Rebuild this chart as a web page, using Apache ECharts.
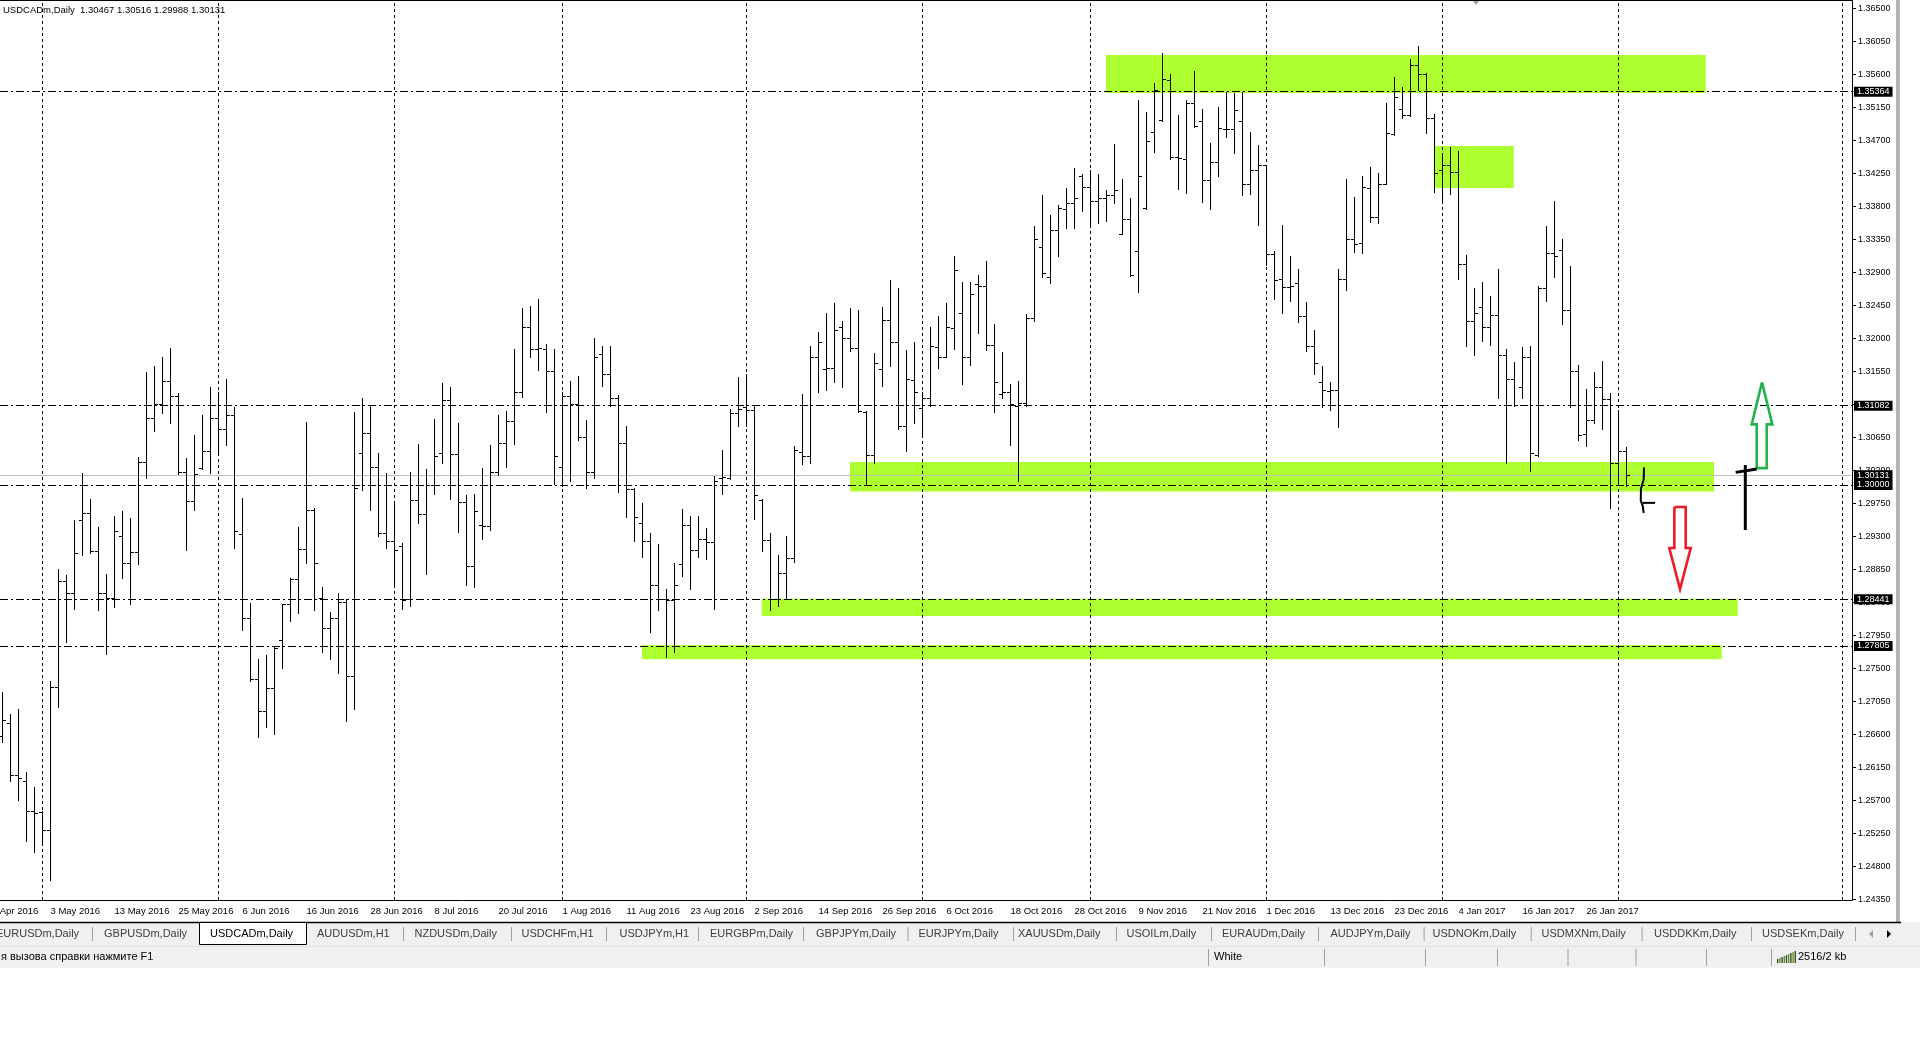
<!DOCTYPE html>
<html><head><meta charset="utf-8">
<script src="https://cdn.jsdelivr.net/npm/echarts@6/dist/echarts.min.js"></script>
<style>html,body{margin:0;padding:0;background:#fff;overflow:hidden}#c{width:1920px;height:1040px}</style>
</head><body><div id="c"></div>
<script>
// ---- DATA (USDCADm Daily, bar index 0 = 25 Apr 2016) ----
const opens = [1.2658,1.2675,1.2604,1.2596,1.2555,1.2554,1.2530,1.2724,1.2869,1.2852,1.2952,1.2962,1.2910,1.2852,1.2846,1.2930,1.2894,1.2908,1.3032,1.3092,
1.3111,1.3142,1.3122,1.3018,1.2978,1.3023,1.3047,1.3091,1.3077,1.3096,1.2933,1.2818,1.2735,1.2692,1.2723,1.2788,1.2837,1.2872,1.2913,1.2966,
1.2846,1.2805,1.2818,1.2840,1.2739,1.3044,1.3071,1.3024,1.2935,1.2923,1.2917,1.2845,1.2980,1.2960,1.3000,1.3043,1.3116,1.3042,1.2977,1.2890,
1.2945,1.2944,1.3018,1.3057,1.3087,1.3127,1.3215,1.3186,1.3185,1.3155,1.3024,1.3122,1.3110,1.3065,1.3018,1.3179,1.3151,1.3118,1.3057,1.2994,
1.2948,1.2924,1.2863,1.2844,1.2843,1.2892,1.2946,1.2912,1.2926,1.2922,1.3010,1.3009,1.3098,1.3106,1.3102,1.2980,1.2925,1.2845,1.2880,1.2900,
1.3045,1.3039,1.3175,1.3158,1.3159,1.3215,1.3201,1.3187,1.3099,1.3041,1.3158,1.3225,1.3195,1.3080,1.3143,1.3105,1.3119,1.3188,1.3174,1.3214,
1.3234,1.3174,1.3274,1.3271,1.3191,1.3124,1.3127,1.3108,1.3112,1.3228,1.3325,1.3284,1.3348,1.3376,1.3384,1.3422,1.3406,1.3387,1.3392,1.3395,
1.3342,1.3363,1.3319,1.3378,1.3482,1.3498,1.3552,1.3447,1.3445,1.3521,1.3496,1.3416,1.3440,1.3486,1.3485,1.3496,1.3411,1.3430,1.3436,1.3315,
1.3281,1.3270,1.3275,1.3230,1.3190,1.3140,1.3128,1.3130,1.3281,1.3335,1.3330,1.3405,1.3366,1.3411,1.3479,1.3513,1.3504,1.3573,1.3560,1.3501,
1.3430,1.3436,1.3427,1.3301,1.3223,1.3243,1.3215,1.3232,1.3177,1.3145,1.3134,1.3174,1.3041,1.3268,1.3316,1.3320,1.3239,1.3156,1.3069,1.3088,
1.3133,1.3117,1.3030,1.30467];
const highs = [1.2718,1.2687,1.2695,1.2608,1.2588,1.2556,1.2732,1.2886,1.2877,1.2952,1.3016,1.2981,1.2943,1.2878,1.2958,1.2964,1.2955,1.3038,1.3154,1.3162,
1.3174,1.3187,1.3125,1.3037,1.3068,1.3095,1.3134,1.3127,1.3144,1.3106,1.2982,1.2839,1.2762,1.2768,1.2781,1.2838,1.2873,1.2943,1.3086,1.2968,
1.2861,1.2827,1.2852,1.2845,1.3099,1.3119,1.3108,1.3043,1.3016,1.2974,1.2921,1.3018,1.3056,1.3022,1.3090,1.3139,1.3133,1.3084,1.2986,1.2988,
1.3023,1.3055,1.3096,1.3101,1.3185,1.3242,1.3244,1.3253,1.3192,1.3186,1.3127,1.3142,1.3149,1.3089,1.3200,1.3189,1.3189,1.3123,1.3081,1.2996,
1.2976,1.2934,1.2919,1.2858,1.2893,1.2967,1.2958,1.2958,1.2941,1.3012,1.3048,1.3103,1.3147,1.3151,1.3108,1.2981,1.2935,1.2905,1.2930,1.3053,
1.3124,1.3189,1.3208,1.3234,1.3248,1.3223,1.3241,1.3238,1.3101,1.3180,1.3243,1.3280,1.3269,1.3184,1.3195,1.3127,1.3215,1.3231,1.3248,1.3312,
1.3277,1.3277,1.3286,1.3305,1.3219,1.3182,1.3138,1.3142,1.3233,1.3353,1.3396,1.3368,1.3382,1.3405,1.3432,1.3424,1.3429,1.3424,1.3402,1.3465,
1.3417,1.3391,1.3525,1.3509,1.3548,1.3589,1.3561,1.3505,1.3525,1.3565,1.3513,1.3467,1.3516,1.3536,1.3534,1.3536,1.3481,1.3463,1.3437,1.3319,
1.3355,1.3312,1.3295,1.3250,1.3212,1.3162,1.3140,1.3294,1.3417,1.3393,1.3422,1.3434,1.3426,1.3521,1.3556,1.3543,1.3581,1.3599,1.3562,1.3506,
1.3453,1.3461,1.3456,1.3314,1.3269,1.3277,1.3258,1.3295,1.3186,1.3168,1.3188,1.3190,1.3271,1.3353,1.3387,1.3335,1.3299,1.3163,1.3131,1.3154,
1.3169,1.3125,1.3102,1.30516];
const lows = [1.2650,1.2596,1.2571,1.2515,1.2499,1.2513,1.2461,1.2697,1.2786,1.2831,1.2905,1.2907,1.2829,1.2770,1.2834,1.2873,1.2837,1.2892,1.3009,1.3074,
1.3098,1.3085,1.3015,1.2911,1.2966,1.3022,1.3016,1.3041,1.3055,1.2914,1.2802,1.2733,1.2656,1.2670,1.2660,1.2751,1.2814,1.2825,1.2894,1.2829,
1.2772,1.2762,1.2743,1.2678,1.2695,1.2993,1.2966,1.2931,1.2914,1.2863,1.2831,1.2835,1.2948,1.2878,1.2988,1.3030,1.2981,1.2936,1.2863,1.2861,
1.2926,1.2939,1.3014,1.3024,1.3056,1.3120,1.3174,1.3157,1.3100,1.3001,1.2999,1.3005,1.3062,1.2996,1.3009,1.3135,1.3108,1.2990,1.2957,1.2923,
1.2902,1.2799,1.2830,1.2765,1.2772,1.2876,1.2858,1.2902,1.2899,1.2831,1.2988,1.3008,1.3080,1.3081,1.2954,1.2910,1.2830,1.2835,1.2845,1.2895,
1.3029,1.3030,1.3127,1.3130,1.3141,1.3134,1.3183,1.3100,1.3000,1.3030,1.3135,1.3162,1.3076,1.3047,1.3085,1.3067,1.3108,1.3160,1.3174,1.3186,
1.3138,1.3163,1.3207,1.3184,1.3100,1.3118,1.3055,1.3005,1.3108,1.3223,1.3283,1.3275,1.3312,1.3350,1.3350,1.3374,1.3352,1.3357,1.3360,1.3385,
1.3342,1.3285,1.3263,1.3377,1.3454,1.3496,1.3444,1.3403,1.3398,1.3488,1.3386,1.3376,1.3422,1.3475,1.3453,1.3395,1.3397,1.3355,1.3300,1.3254,
1.3235,1.3251,1.3222,1.3183,1.3152,1.3107,1.3102,1.3079,1.3266,1.3318,1.3316,1.3358,1.3357,1.3410,1.3477,1.3501,1.3503,1.3539,1.3480,1.3400,
1.3385,1.3397,1.3281,1.3190,1.3177,1.3197,1.3191,1.3119,1.3030,1.3108,1.3118,1.3019,1.3039,1.3251,1.3284,1.3220,1.3107,1.3061,1.3053,1.3085,
1.3076,1.2969,1.3000,1.29988];
const closes = [1.2679,1.2604,1.2600,1.2555,1.2553,1.2530,1.2724,1.2869,1.2852,1.2907,1.2962,1.2910,1.2852,1.2846,1.2937,1.2894,1.2908,1.3032,1.3092,1.3110,
1.3142,1.3122,1.3018,1.2978,1.3015,1.3047,1.3091,1.3077,1.3096,1.2937,1.2818,1.2735,1.2692,1.2723,1.2777,1.2837,1.2872,1.2913,1.2966,1.2893,
1.2805,1.2818,1.2841,1.2739,1.2996,1.3071,1.3024,1.2935,1.2923,1.2911,1.2843,1.2980,1.2960,1.3000,1.3040,1.3116,1.3042,1.2977,1.2890,1.2965,
1.2944,1.3018,1.3057,1.3087,1.3127,1.3215,1.3186,1.3187,1.3155,1.3040,1.3122,1.3110,1.3065,1.3018,1.3174,1.3151,1.3118,1.3057,1.2994,1.2956,
1.2924,1.2863,1.2844,1.2843,1.2864,1.2946,1.2912,1.2926,1.2922,1.3006,1.3011,1.3098,1.3103,1.3102,1.2987,1.2925,1.2845,1.2880,1.2900,1.3048,
1.3039,1.3175,1.3195,1.3159,1.3211,1.3201,1.3187,1.3101,1.3041,1.3167,1.3225,1.3195,1.3080,1.3145,1.3127,1.3119,1.3190,1.3174,1.3216,1.3293,
1.3174,1.3261,1.3271,1.3191,1.3140,1.3127,1.3110,1.3112,1.3228,1.3336,1.3289,1.3348,1.3378,1.3384,1.3392,1.3406,1.3387,1.3392,1.3395,1.3402,
1.3363,1.3286,1.3422,1.3469,1.3539,1.3554,1.3447,1.3446,1.3521,1.3489,1.3416,1.3440,1.3487,1.3485,1.3511,1.3411,1.3430,1.3436,1.3315,1.3280,
1.3270,1.3271,1.3230,1.3190,1.3166,1.3129,1.3129,1.3281,1.3335,1.3329,1.3406,1.3365,1.3411,1.3480,1.3529,1.3504,1.3573,1.3561,1.3501,1.3425,
1.3436,1.3427,1.3301,1.3223,1.3234,1.3215,1.3232,1.3177,1.3145,1.3109,1.3174,1.3043,1.3268,1.3316,1.3312,1.3239,1.3156,1.3068,1.3088,1.3133,
1.3117,1.3030,1.3047,1.30131];

const priceTicks = ['1.24350','1.24800','1.25250','1.25700','1.26150','1.26600','1.27050','1.27500','1.27950','1.28400','1.28850','1.29300','1.29750','1.30200',
'1.30650','1.31100','1.31550','1.32000','1.32450','1.32900','1.33350','1.33800','1.34250','1.34700','1.35150','1.35600','1.36050','1.36500'];
const dateTickIdx = [6,14,22,30,38,46,54,62,70,78,86,94,102,110,118,126,134,142,150,158,166,174,182,190,198];
const dateTickLabels = ['3 May 2016','13 May 2016','25 May 2016','6 Jun 2016','16 Jun 2016','28 Jun 2016','8 Jul 2016','20 Jul 2016','1 Aug 2016','11 Aug 2016',
'23 Aug 2016','2 Sep 2016','14 Sep 2016','26 Sep 2016','6 Oct 2016','18 Oct 2016','28 Oct 2016','9 Nov 2016','21 Nov 2016','1 Dec 2016','13 Dec 2016',
'23 Dec 2016','4 Jan 2017','16 Jan 2017','26 Jan 2017'];
const cutDateIdx = -2, cutDateLabel = '21 Apr 2016';
const monthStartIdx = [5,27,49,70,93,115,136,158,180,202,230];
const levelPrices = [1.35364,1.31082,1.30000,1.28441,1.27805];
const bidPrice = 1.30131;
// zones: [barFrom, priceTop, barTo, priceBottom]
const zones = [[137.94,1.35864,212.9,1.35345],[178.98,1.34623,188.9,1.34050],[105.94,1.30313,213.94,1.29911],[94.9,1.28448,216.9,1.28213],[79.94,1.27818,214.9,1.27624]];
// hand drawn marks, [bar, price]
const upArrowPts = [[219.94,1.31399],[221.23,1.30827],[220.53,1.30827],[220.53,1.30230],[219.28,1.30230],[219.28,1.30827],[218.65,1.30827],[219.94,1.31399]];
const downArrowPts = [[208.98,1.29700],[210.40,1.29700],[210.40,1.29140],[211.03,1.29140],[209.69,1.28581],[208.35,1.29140],[208.98,1.29140],[208.98,1.29700]];
const crossV = [[217.85,1.30272],[217.85,1.29386]];
const crossH = [[216.65,1.30172],[219.28,1.30218]];
const bracePts = [[205.19,1.30238],[205.15,1.30077],[204.81,1.29949],[204.78,1.29788],[205.02,1.29719],[205.15,1.29618]];
const braceTick = [[205.02,1.29756],[206.56,1.29756]];
const headerText = 'USDCADm,Daily  1.30467 1.30516 1.29988 1.30131';
const tabNames = ['EURUSDm,Daily','GBPUSDm,Daily','USDCADm,Daily','AUDUSDm,H1','NZDUSDm,Daily','USDCHFm,H1','USDJPYm,H1','EURGBPm,Daily','GBPJPYm,Daily',
'EURJPYm,Daily','XAUUSDm,Daily','USOILm,Daily','EURAUDm,Daily','AUDJPYm,Daily','USDNOKm,Daily','USDMXNm,Daily','USDDKKm,Daily','USDSEKm,Daily'];
const tabX = [-4,104,210,317,414.5,521.5,619.5,710,816,918.5,1018,1126.5,1222,1330.5,1432.5,1541.5,1654,1762];
const tabSep = [92,403,511,606,698,803,907.5,1013,1116,1211,1318,1423.6,1530.7,1641.6,1751,1855];
const statusSep = [1208,1324,1425,1497,1567.5,1635.5,1706,1771];

// ---- CHART ----
const FONT = 'Liberation Sans';
const chart = echarts.init(document.getElementById('c'), null, {renderer:'canvas'});
const ohlc = opens.map((o,i)=>[i,o,highs[i],lows[i],closes[i]]);
const labelMap = {}; dateTickIdx.forEach((k,i)=>labelMap[k]=dateTickLabels[i]);

function polyFromPts(api, pts){ return pts.map(p=>api.coord(p)); }

const option = {
  animation:false,
  backgroundColor:'#fff',
  grid:{left:0, top:0, width:1852, height:900, containLabel:false},
  xAxis:{type:'value', min:-0.3125, max:231.1875, position:'bottom',
    axisLine:{show:true, onZero:false, lineStyle:{color:'#000', width:1}},
    axisTick:{show:false}, splitLine:{show:false},
    axisLabel:{show:true, customValues:dateTickIdx, formatter:v=>labelMap[Math.round(v)]||'', align:'left', margin:6,
      color:'#000', fontSize:9.5, fontFamily:FONT, showMinLabel:true, showMaxLabel:true}},
  yAxis:{type:'value', position:'right', min:1.2434, max:1.36614, scale:true,
    axisLine:{show:true, onZero:false, lineStyle:{color:'#000', width:1}},
    axisTick:{show:true, length:4, inside:false, customValues:priceTicks.map(Number), lineStyle:{color:'#000'}},
    splitLine:{show:false},
    axisLabel:{show:true, customValues:priceTicks.map(Number), formatter:v=>v.toFixed(5), margin:6, color:'#000', fontSize:9, fontFamily:FONT}},
  series:[
    {name:'zones', type:'line', data:[], z:1, silent:true,
     markArea:{silent:true, itemStyle:{color:'#adff2f', opacity:1},
       data:zones.map(z=>[{xAxis:z[0], yAxis:z[1]},{xAxis:z[2], yAxis:z[3]}])}},
    {name:'grid', type:'line', data:[], z:2, silent:true,
     markLine:{silent:true, symbol:'none', label:{show:false},
       lineStyle:{color:'#000', width:1, type:[3,3]},
       data:monthStartIdx.map(k=>({xAxis:k}))}},
    {name:'levels', type:'line', data:[], z:3, silent:true,
     markLine:{silent:true, symbol:'none', precision:5,
       label:{show:true, position:'end', distance:2, formatter:p=>Number(p.value).toFixed(5), color:'#fff', backgroundColor:'#000',
         padding:[1,3,0,3], fontSize:9, fontFamily:FONT, lineHeight:9},
       lineStyle:{color:'#000', width:1, type:[8,3,2,3]},
       data:[{yAxis:bidPrice, lineStyle:{color:'#c0c0c0', type:'solid'}}].concat(levelPrices.map(p=>({yAxis:p})))}},
    {name:'USDCADm', type:'custom', z:5, silent:true, data:ohlc, encode:{x:0, y:[1,2,3,4]},
     renderItem:function(params, api){
       const k=api.value(0);
       const pO=api.coord([k,api.value(1)]), pH=api.coord([k,api.value(2)]), pL=api.coord([k,api.value(3)]), pC=api.coord([k,api.value(4)]);
       const cx=Math.floor(pH[0]+0.01); const x=cx+0.5;
       const yo=Math.round(pO[1])+0.5, yc=Math.round(pC[1])+0.5;
       const st={stroke:'#000', lineWidth:1};
       return {type:'group', children:[
         {type:'line', shape:{x1:x, y1:Math.round(pH[1]), x2:x, y2:Math.round(pL[1])+1}, style:st},
         {type:'line', shape:{x1:cx-3, y1:yo, x2:cx, y2:yo}, style:st},
         {type:'line', shape:{x1:cx+1, y1:yc, x2:cx+4, y2:yc}, style:st}
       ]};
     }},
    {name:'marks', type:'custom', z:6, silent:true, data:[[0,1.3]], clip:false,
     renderItem:function(params, api){
       return {type:'group', children:[
         {type:'polyline', shape:{points:polyFromPts(api, upArrowPts)}, style:{stroke:'#22b14c', lineWidth:2.6, fill:null, lineJoin:'miter'}},
         {type:'polyline', shape:{points:polyFromPts(api, downArrowPts)}, style:{stroke:'#ed1c24', lineWidth:2.6, fill:null, lineJoin:'miter'}},
         {type:'polyline', shape:{points:polyFromPts(api, crossV)}, style:{stroke:'#000', lineWidth:3, fill:null}},
         {type:'polyline', shape:{points:polyFromPts(api, crossH)}, style:{stroke:'#000', lineWidth:3, fill:null}},
         {type:'polyline', shape:{points:polyFromPts(api, bracePts)}, style:{stroke:'#000', lineWidth:2, fill:null}},
         {type:'polyline', shape:{points:polyFromPts(api, braceTick)}, style:{stroke:'#000', lineWidth:2, fill:null}}
       ]};
     }}
  ]
};
chart.setOption(option);

// ---- window chrome (terminal frame, tabs, status bar) ----
const g = [];
g.push({type:'line', shape:{x1:0,y1:0.5,x2:1852,y2:0.5}, style:{stroke:'#000', lineWidth:1}, z:10});
g.push({type:'text', style:{text:headerText, x:3, y:10, fill:'#000', font:'9.5px '+FONT, verticalAlign:'middle'}, z:10});
g.push({type:'polygon', shape:{points:[[1473,1],[1479,1],[1476,5]]}, style:{fill:'#a0a0a0'}, z:10});
g.push({type:'rect', shape:{x:1896,y:0,width:4,height:922}, style:{fill:'#b4b4b4'}, z:10});
// cut first date label
const cutX = chart.convertToPixel({xAxisIndex:0}, cutDateIdx);
g.push({type:'text', style:{text:cutDateLabel, x:cutX, y:906, fill:'#000', font:'9.5px '+FONT, verticalAlign:'top'}, z:10});
// tab bar
g.push({type:'rect', shape:{x:0,y:922,width:1920,height:46}, style:{fill:'#f0f0f0'}, z:9});
g.push({type:'line', shape:{x1:0,y1:922.5,x2:1901,y2:922.5}, style:{stroke:'#000', lineWidth:1.5}, z:10});
g.push({type:'rect', shape:{x:199.5,y:922.5,width:107,height:22}, style:{fill:'#fff', stroke:'#000', lineWidth:1}, z:10});
tabNames.forEach((t,i)=>g.push({type:'text', style:{text:t, x:tabX[i], y:934, fill:i===2?'#000':'#3c3c3c', font:'11px '+FONT, verticalAlign:'middle'}, z:11}));
tabSep.forEach(x=>g.push({type:'line', shape:{x1:x+0.5,y1:927,x2:x+0.5,y2:941}, style:{stroke:'#a0a0a0', lineWidth:1}, z:10}));
g.push({type:'polygon', shape:{points:[[1873,930],[1873,938],[1869,934]]}, style:{fill:'#a0a0a0'}, z:10});
g.push({type:'polygon', shape:{points:[[1887,930],[1887,938],[1891,934]]}, style:{fill:'#000'}, z:10});
// status bar
g.push({type:'line', shape:{x1:0,y1:946.5,x2:1920,y2:946.5}, style:{stroke:'#e3e3e3', lineWidth:1}, z:10});
g.push({type:'text', style:{text:'я вызова справки нажмите F1', x:1, y:957, fill:'#000', font:'11px '+FONT, verticalAlign:'middle'}, z:10});
g.push({type:'text', style:{text:'White', x:1214, y:957, fill:'#000', font:'11px '+FONT, verticalAlign:'middle'}, z:10});
g.push({type:'text', style:{text:'2516/2 kb', x:1798, y:957, fill:'#000', font:'11px '+FONT, verticalAlign:'middle'}, z:10});
statusSep.forEach(x=>g.push({type:'line', shape:{x1:x+0.5,y1:949,x2:x+0.5,y2:966}, style:{stroke:'#a0a0a0', lineWidth:1}, z:10}));
for(let i=0;i<9;i++){ const h=4+i; g.push({type:'rect', shape:{x:1777+i*2.2,y:963-h,width:1.4,height:h}, style:{fill:i%2?'#6b8e23':'#2f4f2f'}, z:10}); }
chart.setOption({graphic:{elements:g}});
</script>
</body></html>
